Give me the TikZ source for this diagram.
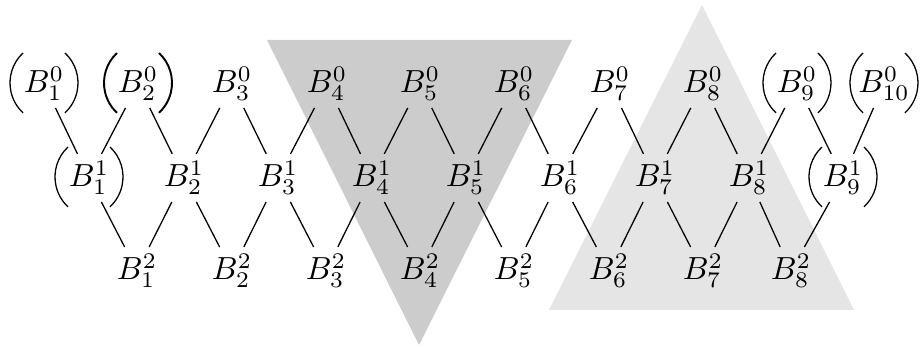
\documentclass[tikz,border=0pt]{standalone}
\usepackage{tikz}
\usetikzlibrary{calc}
\definecolor{darkshade}{gray}{0.8}
\definecolor{lightshade}{gray}{0.9}

\tikzset{
  bnode/.style={anchor=base, inner sep=2pt},
  bracket/.style={line width=#1},
}

\begin{document}
\begin{tikzpicture}[x=0.011cm, y=0.011cm]
  \useasboundingbox (0,0) rectangle (923,347);
  % shaded triangles
  \fill[darkshade] (267,307) -- (572,307) -- (419,2) -- cycle;
  \fill[lightshade] (549,37) -- (854,37) -- (702,342) -- cycle;
  % three rows
  \foreach \x [count=\i] in {44,138,232,327,420,514,610,703,797,884}
    \node[bnode] (top\i) at (\x,254) {$B_{\i}^0$};
  \foreach \x [count=\i] in {89,184,278,372,466,560,655,749,843}
    \node[bnode] (mid\i) at (\x,160) {$B_{\i}^1$};
  \foreach \x [count=\i] in {137,232,326,420,514,609,703,791}
    \node[bnode] (bot\i) at (\x,67) {$B_{\i}^2$};
  % links
  \foreach \i in {1,...,9} {
    \pgfmathtruncatemacro\j{\i+1}
    \draw (top\i) -- (mid\i);
    \draw (top\j) -- (mid\i);
  }
  \foreach \i in {1,...,8} {
    \pgfmathtruncatemacro\j{\i+1}
    \draw (mid\i) -- (bot\i);
    \draw (mid\j) -- (bot\i);
  }
  % brackets
  \foreach \n/\w in {top1/0.4pt, top2/0.6pt, top9/0.4pt, top10/0.4pt, mid1/0.4pt, mid9/0.4pt} {
    \draw[bracket=\w] ($(\n.base)+(-21,40)$) arc[start angle=133, end angle=227, radius=0.45cm];
    \draw[bracket=\w] ($(\n.base)+(21,40)$) arc[start angle=47, end angle=-47, radius=0.45cm];
  }
\end{tikzpicture}
\end{document}
